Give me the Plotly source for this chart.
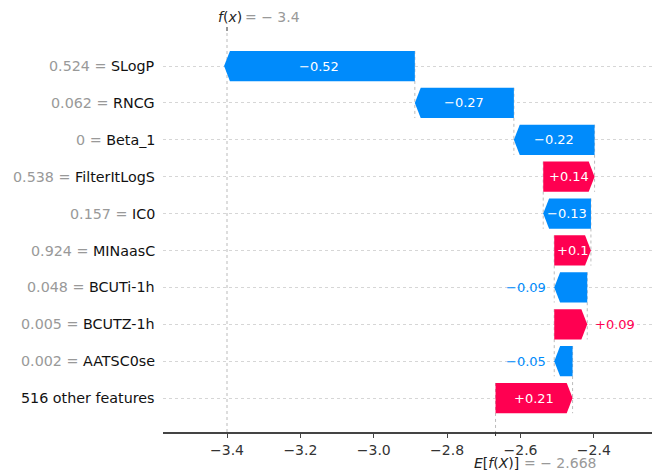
import plotly.graph_objects as go

# SHAP waterfall for a single prediction
features = ["SLogP", "RNCG", "Beta_1", "FilterItLogS", "IC0", "MINaasC",
            "BCUTi-1h", "BCUTZ-1h", "AATSC0se", "516 other features"]
feature_values = ["0.524", "0.062", "0", "0.538", "0.157", "0.924",
                  "0.048", "0.005", "0.002", None]
shap_values = [-0.52, -0.27, -0.22, 0.14, -0.13, 0.1, -0.09, 0.09, -0.05, 0.21]
base_value = -2.668
fx_value = -3.4
x_tick_values = [-3.4, -3.2, -3.0, -2.8, -2.6, -2.4]
x_tick_labels = ["\u22123.4", "\u22123.2", "\u22123.0", "\u22122.8", "\u22122.6", "\u22122.4"]

POS = "#ff0051"
NEG = "#008bfb"
FONT = "DejaVu Sans"

W, H = 654, 470
M_L, M_R, M_T, M_B = 163, 2, 31, 38
X_RANGE = [-3.5745, -2.2415]
Y_RANGE = [9.92, -0.95]
px_per_unit = (W - M_L - M_R) / (X_RANGE[1] - X_RANGE[0])

n = len(features)
rows = list(range(n))
half_h = 0.41
head = 0.016

# cumulative positions, accumulated from the bottom row upwards
starts = [0.0] * n
ends = [0.0] * n
cur = base_value
for r in reversed(rows):
    starts[r] = cur
    cur = cur + shap_values[r]
    ends[r] = cur


def fmt(v):
    s = f"{v:+.2f}".rstrip("0").rstrip(".")
    return s.replace("-", "\u2212")


def text_width(s, size):
    w = {"+": 0.838, "\u2212": 0.838, ".": 0.318}
    return sum(w.get(c, 0.636) for c in s) * size


fig = go.Figure()
shapes = []
annotations = []

# dotted connectors between consecutive bars
for r in rows[:-1]:
    shapes.append(dict(type="line", xref="x", yref="y", x0=starts[r], x1=starts[r],
                       y0=r - half_h, y1=r + 1 + half_h,
                       line=dict(color="#bbbbbb", width=1, dash="dot"), layer="below"))
# expected value line
shapes.append(dict(type="line", xref="x", yref="y", x0=base_value, x1=base_value,
                   y0=n - 1 - half_h, y1=Y_RANGE[0],
                   line=dict(color="#bbbbbb", width=1, dash="dot"), layer="below"))
# model output line
shapes.append(dict(type="line", xref="x", yref="paper", x0=fx_value, x1=fx_value,
                   y0=0, y1=1, line=dict(color="#bbbbbb", width=1, dash="dot"), layer="below"))
# small ticks marking f(x) and E[f(X)]
shapes.append(dict(type="line", xref="x", yref="paper", x0=fx_value, x1=fx_value,
                   y0=1, y1=1 + 4 / (H - M_T - M_B), line=dict(color="#333333", width=1)))
shapes.append(dict(type="line", xref="x", yref="paper", x0=base_value, x1=base_value,
                   y0=0, y1=-4 / (H - M_T - M_B), line=dict(color="#333333", width=1)))

for r in rows:
    s, e, v = starts[r], ends[r], shap_values[r]
    color = POS if v > 0 else NEG
    hl = min(head, abs(v))
    neck = e - hl if v > 0 else e + hl
    xs = [s, neck, e, neck, s, s]
    ys = [r - half_h, r - half_h, r, r + half_h, r + half_h, r - half_h]
    fig.add_trace(go.Scatter(x=xs, y=ys, mode="lines", fill="toself", fillcolor=color,
                             line=dict(color=color, width=0), hoverinfo="skip",
                             showlegend=False))

    label = fmt(v)
    if text_width(label, 13) < abs(v) * px_per_unit:
        annotations.append(dict(x=(s + e) / 2, y=r, xref="x", yref="y", text=label,
                                showarrow=False, font=dict(family=FONT, size=13, color="white")))
    else:
        annotations.append(dict(x=e, y=r, xref="x", yref="y", text=label, showarrow=False,
                                xanchor="left" if v > 0 else "right",
                                xshift=6 if v > 0 else -6,
                                font=dict(family=FONT, size=13, color=color)))

    if feature_values[r] is None:
        name = features[r]
    else:
        name = f"<span style='color:#999999'>{feature_values[r]} = </span>{features[r]}"
    annotations.append(dict(x=0, y=r, xref="paper", yref="y", text=name, showarrow=False,
                            xanchor="right", xshift=-6,
                            font=dict(family=FONT, size=14.3, color="#111111")))

# f(x) and E[f(X)] captions
annotations += [
    dict(x=fx_value, y=1, xref="x", yref="paper", text="<i>f</i>(<i>x</i>)",
         xanchor="left", xshift=-11, yanchor="middle", yshift=14, showarrow=False,
         font=dict(family=FONT, size=14, color="#222222")),
    dict(x=fx_value, y=1, xref="x", yref="paper", text="= \u2212 " + f"{fx_value:.1f}".lstrip("-"),
         xanchor="left", xshift=16, yanchor="middle", yshift=14, showarrow=False,
         font=dict(family=FONT, size=14, color="#999999")),
    dict(x=base_value, y=0, xref="x", yref="paper",
         text="<i>E</i>[<i>f</i>(<i>X</i>)]",
         xanchor="left", xshift=-24, yanchor="middle", yshift=-31, showarrow=False,
         font=dict(family=FONT, size=14, color="#222222")),
    dict(x=base_value, y=0, xref="x", yref="paper",
         text="= \u2212 " + f"{base_value:.3f}".lstrip("-"),
         xanchor="left", xshift=26, yanchor="middle", yshift=-31, showarrow=False,
         font=dict(family=FONT, size=14, color="#999999")),
]

fig.update_layout(
    width=W, height=H,
    margin=dict(l=M_L, r=M_R, t=M_T, b=M_B),
    paper_bgcolor="white", plot_bgcolor="white",
    font=dict(family=FONT),
    shapes=shapes, annotations=annotations,
    xaxis=dict(range=X_RANGE, tickvals=x_tick_values, ticktext=x_tick_labels,
               showline=True, linecolor="#444444", linewidth=1.5,
               ticks="outside", ticklen=4, tickcolor="#444444",
               tickfont=dict(family=FONT, size=14, color="#333333"),
               showgrid=False, zeroline=False, fixedrange=True),
    yaxis=dict(range=Y_RANGE, tickvals=rows, showticklabels=False,
               showgrid=True, gridcolor="#d6d6d6", griddash="dot", gridwidth=1,
               showline=False, zeroline=False, fixedrange=True),
)

fig.write_html("out.html")
